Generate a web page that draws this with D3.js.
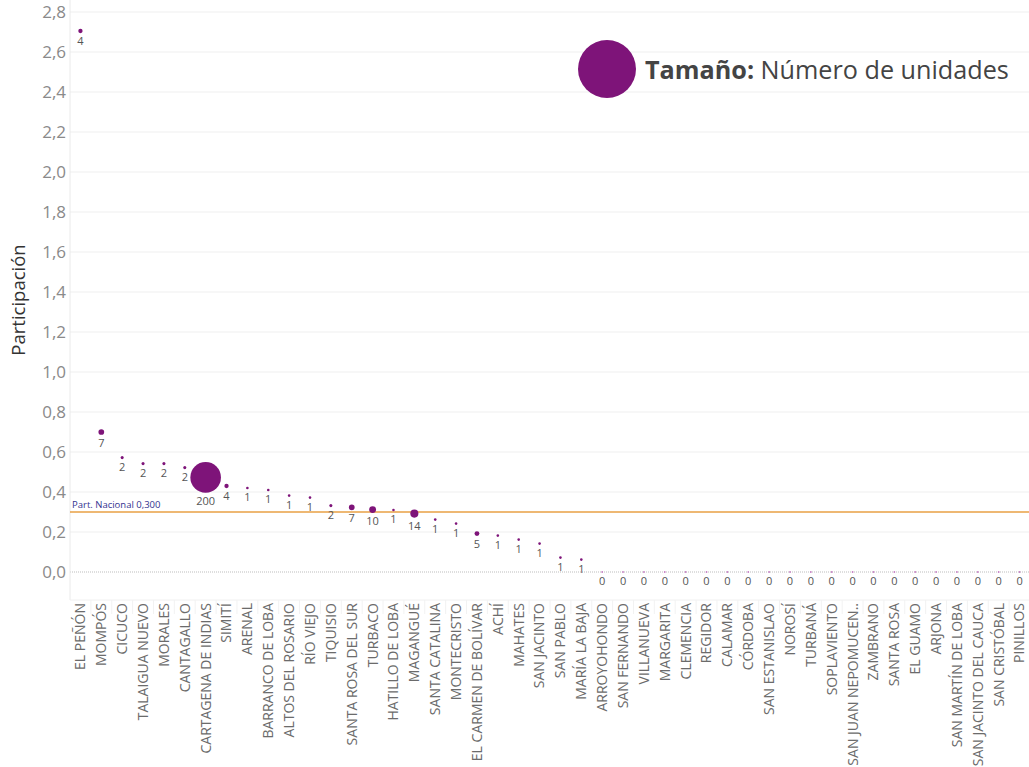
<!DOCTYPE html>
<html>
<head>
<meta charset="utf-8">
<script src="https://cdn.jsdelivr.net/npm/d3@7"></script>
<style>
  html, body { margin: 0; padding: 0; background: #fff; }
  svg { display: block; font-family: "Open Sans", "Noto Sans", sans-serif; }
</style>
</head>
<body>
<svg id="chart" width="1029" height="767"></svg>
<script>
// Municipios ordenados por participación
const municipios = [
  "EL PEÑÓN", "MOMPÓS", "CICUCO", "TALAIGUA NUEVO", "MORALES", "CANTAGALLO",
  "CARTAGENA DE INDIAS", "SIMITÍ", "ARENAL", "BARRANCO DE LOBA", "ALTOS DEL ROSARIO",
  "RÍO VIEJO", "TIQUISIO", "SANTA ROSA DEL SUR", "TURBACO", "HATILLO DE LOBA",
  "MAGANGUÉ", "SANTA CATALINA", "MONTECRISTO", "EL CARMEN DE BOLÍVAR", "ACHÍ",
  "MAHATES", "SAN JACINTO", "SAN PABLO", "MARÍA LA BAJA", "ARROYOHONDO",
  "SAN FERNANDO", "VILLANUEVA", "MARGARITA", "CLEMENCIA", "REGIDOR", "CALAMAR",
  "CÓRDOBA", "SAN ESTANISLAO", "NOROSÍ", "TURBANÁ", "SOPLAVIENTO",
  "SAN JUAN NEPOMUCEN..", "ZAMBRANO", "SANTA ROSA", "EL GUAMO", "ARJONA",
  "SAN MARTÍN DE LOBA", "SAN JACINTO DEL CAUCA", "SAN CRISTÓBAL", "PINILLOS"
];

// Participación (%) de cada municipio
const participacion = [
  2.705, 0.700, 0.572, 0.542, 0.542, 0.522,
  0.473, 0.430, 0.420, 0.410, 0.382,
  0.372, 0.332, 0.323, 0.312, 0.310,
  0.292, 0.262, 0.242, 0.192, 0.182,
  0.162, 0.142, 0.072, 0.062, 0,
  0, 0, 0, 0, 0, 0,
  0, 0, 0, 0, 0,
  0, 0, 0, 0, 0,
  0, 0, 0, 0
];

// Número de unidades (tamaño del punto)
const unidades = [
  4, 7, 2, 2, 2, 2,
  200, 4, 1, 1, 1,
  1, 2, 7, 10, 1,
  14, 1, 1, 5, 1,
  1, 1, 1, 1, 0,
  0, 0, 0, 0, 0, 0,
  0, 0, 0, 0, 0,
  0, 0, 0, 0, 0,
  0, 0, 0, 0
];

const yTicks = [0, 0.2, 0.4, 0.6, 0.8, 1.0, 1.2, 1.4, 1.6, 1.8, 2.0, 2.2, 2.4, 2.6, 2.8];
const referencia = 0.300;
const referenciaTexto = "Part. Nacional 0,300";

const data = municipios.map((m, i) => ({ m, p: participacion[i], u: unidades[i] }));

const svg = d3.select("#chart");
const plotLeft = 70, plotRight = 1030, paneBottom = 600;

const x = d3.scaleBand().domain(municipios).range([plotLeft, plotRight]).padding(0);
const y = d3.scaleLinear().domain([0, 2.8]).range([572, 12]);
const r = d3.scaleSqrt().domain([0, 200]).range([0, 15.3]);

const fmt = v => d3.format(".1f")(v).replace(".", ",");
const radius = d => d.u === 0 ? 0.9 : Math.max(r(d.u), 1.3);

// Líneas de cuadrícula
svg.append("g")
  .selectAll("line")
  .data(yTicks.filter(t => t > 0))
  .join("line")
  .attr("x1", plotLeft).attr("x2", plotRight)
  .attr("y1", d => y(d)).attr("y2", d => y(d))
  .attr("stroke", "#efefef").attr("stroke-width", 1);

// Línea de cero punteada
svg.append("line")
  .attr("x1", plotLeft).attr("x2", plotRight)
  .attr("y1", y(0)).attr("y2", y(0))
  .attr("stroke", "#bdbdbd").attr("stroke-width", 1)
  .attr("stroke-dasharray", "1,1");

// Eje vertical
svg.append("line")
  .attr("x1", plotLeft).attr("x2", plotLeft)
  .attr("y1", 0).attr("y2", paneBottom)
  .attr("stroke", "#eaeaea");

// Borde inferior del panel
svg.append("line")
  .attr("x1", plotLeft).attr("x2", plotRight)
  .attr("y1", paneBottom).attr("y2", paneBottom)
  .attr("stroke", "#f0f0f0");

// Eje Y
const yAxis = svg.append("g")
  .attr("transform", `translate(${plotLeft - 4},0)`)
  .call(d3.axisLeft(y).tickValues(yTicks).tickFormat(fmt).tickSize(0).tickPadding(0));
yAxis.select(".domain").remove();
yAxis.selectAll("text")
  .attr("fill", "#8a8a8a")
  .style("font-size", "17px")
  .style("font-family", "'Open Sans', sans-serif");

// Título del eje Y
svg.append("text")
  .attr("transform", `translate(25,300) rotate(-90)`)
  .attr("text-anchor", "middle")
  .attr("fill", "#333")
  .style("font-size", "18.5px")
  .text("Participación");

// Eje X (etiquetas rotadas)
const xAxis = svg.append("g")
  .attr("transform", `translate(0,${paneBottom})`)
  .call(d3.axisBottom(x).tickSize(0).tickPadding(0));
xAxis.select(".domain").remove();
xAxis.selectAll("text")
  .attr("transform", "rotate(-90)")
  .attr("x", -3)
  .attr("y", 0)
  .attr("dy", "0.35em")
  .attr("text-anchor", "end")
  .attr("fill", "#6b6b6b")
  .style("font-size", "14px")
  .style("font-family", "'Open Sans', sans-serif");

// Separadores entre categorías
svg.append("g")
  .selectAll("line")
  .data(municipios.slice(1))
  .join("line")
  .attr("x1", d => x(d)).attr("x2", d => x(d))
  .attr("y1", paneBottom).attr("y2", paneBottom + 14)
  .attr("stroke", "#f2f2f2");

// Línea de referencia nacional
svg.append("line")
  .attr("x1", plotLeft).attr("x2", plotRight)
  .attr("y1", y(referencia)).attr("y2", y(referencia))
  .attr("stroke", "#e8a045").attr("stroke-width", 1.5);

svg.append("text")
  .attr("x", plotLeft + 2)
  .attr("y", y(referencia) - 4)
  .attr("fill", "#33338f")
  .style("font-size", "9.5px")
  .text(referenciaTexto);

// Puntos
const cx = d => x(d.m) + x.bandwidth() / 2;
svg.append("g")
  .selectAll("circle")
  .data(data)
  .join("circle")
  .attr("cx", cx)
  .attr("cy", d => y(d.p))
  .attr("r", radius)
  .attr("fill", d => d.u === 0 ? "#c77fc5" : "#7e1479");

// Etiquetas de unidades
svg.append("g")
  .selectAll("text")
  .data(data)
  .join("text")
  .attr("x", cx)
  .attr("y", d => y(d.p) + radius(d) + 12)
  .attr("text-anchor", "middle")
  .attr("fill", "#555")
  .style("font-size", "11px")
  .text(d => d.u);

// Leyenda de tamaño
svg.append("circle")
  .attr("cx", 607).attr("cy", 69).attr("r", 29)
  .attr("fill", "#7e1479");

const leg = svg.append("text")
  .attr("x", 645).attr("y", 79)
  .attr("fill", "#444")
  .style("font-size", "25.2px");
leg.append("tspan").style("font-weight", "bold").text("Tamaño:");
leg.append("tspan").text(" Número de unidades");
</script>
</body>
</html>
